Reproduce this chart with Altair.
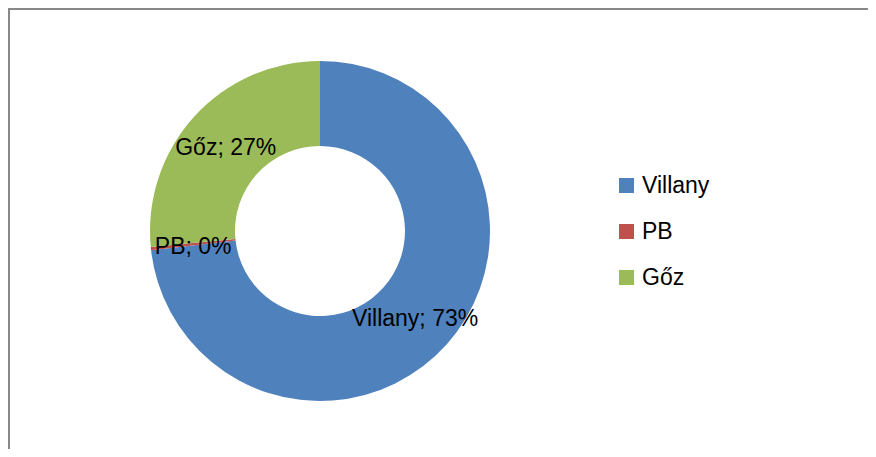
import altair as alt
import pandas as pd

categories = ["Villany", "PB", "Gőz"]
values = [73.2, 0.3, 26.5]
labels = ["Villany; 73%", "PB; 0%", "Gőz; 27%"]
colors = ["#4F81BD", "#C0504D", "#9BBB59"]

df = pd.DataFrame({
    "cat": categories,
    "val": values,
    "label": labels,
    "idx": list(range(len(categories))),
})

FONT = "Liberation Sans"
CX, CY = 312, 223

base = alt.Chart(df).encode(
    theta=alt.Theta("val:Q", stack=True),
    order=alt.Order("idx:Q"),
    x=alt.value(CX),
    y=alt.value(CY),
)

arcs = base.mark_arc(outerRadius=170, innerRadius=85).encode(
    color=alt.Color(
        "cat:N",
        scale=alt.Scale(domain=categories, range=colors),
        sort=None,
        legend=alt.Legend(
            title=None,
            orient="none",
            legendX=607,
            legendY=166,
            symbolType="square",
            symbolSize=225,
            symbolStrokeWidth=0,
            labelFontSize=23,
            labelFont=FONT,
            labelColor="#000000",
            labelOffset=4,
            rowPadding=22,
        ),
    )
)

texts = base.mark_text(radius=127.5, fontSize=23, font=FONT, color="#000000", dy=3).encode(
    text="label:N"
)

frame_df = pd.DataFrame({"k": [0]})
left_line = alt.Chart(frame_df).mark_rule(color="#888888", strokeWidth=2).encode(
    x=alt.value(1), y=alt.value(0), y2=alt.value(441)
)
top_line = alt.Chart(frame_df).mark_rule(color="#888888", strokeWidth=2).encode(
    x=alt.value(0), x2=alt.value(860), y=alt.value(1)
)

chart = alt.layer(arcs, texts, left_line, top_line).properties(
    width=860,
    height=441,
    padding=0,
    autosize=alt.AutoSizeParams(type="none"),
).configure_view(stroke=None)

chart.save("out.html", embed_options={"renderer": "svg", "actions": False})
